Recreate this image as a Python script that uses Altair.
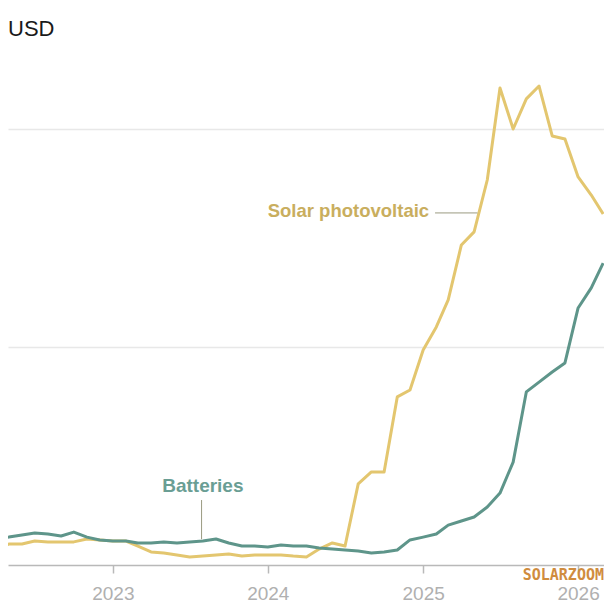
import altair as alt
import pandas as pd

# Monthly values, April 2022 .. March 2026
start_month = "2022-04-01"
n_months = 48
solar = [7.3, 9.6, 9.6, 11.0, 10.6, 10.6, 10.6, 11.9, 11.5,
         11.0, 11.0, 8.7, 6.0, 5.5, 4.6, 3.7, 4.1, 4.6, 5.0, 4.1, 4.6,
         4.6, 4.6, 4.1, 3.7, 7.3, 10.1, 8.7, 37.2, 42.7, 42.7, 77.1, 80.3,
         98.6, 109.2, 121.6, 146.8, 152.8, 176.6, 218.8, 200.0, 213.8, 219.7, 196.8, 195.4,
         178.0, 169.7, 161.0]
batteries = [12.4, 12.8, 13.8, 14.7, 14.2, 13.3, 15.1, 12.8, 11.5,
             11.0, 11.0, 10.1, 10.1, 10.6, 10.1, 10.6, 11.0, 11.9, 10.1, 8.7, 8.7,
             8.3, 9.2, 8.7, 8.7, 7.8, 7.3, 6.9, 6.4, 5.5, 6.0, 6.9, 11.5,
             12.8, 14.2, 18.3, 20.2, 22.0, 26.6, 33.0, 47.2, 79.4, 83.9, 88.5, 92.7,
             117.9, 127.1, 138.5]
series_names = ["Solar photovoltaic", "Batteries"]
series_colors = ["#e3c66f", "#5e958a"]
label_colors = ["#c9ae5e", "#6a9e94"]
year_ticks = [2023, 2024, 2025, 2026]
grid_values = [100, 200]

months = pd.date_range(start_month, periods=n_months, freq="MS").strftime("%Y-%m-%dT00:00:00")
df = pd.concat([
    pd.DataFrame({"date": months, "value": solar, "series": series_names[0]}),
    pd.DataFrame({"date": months, "value": batteries, "series": series_names[1]}),
])

# annotation labels and leader lines (in data coordinates)
label_dates = ["2025-01-15T00:00:00", "2023-08-01T00:00:00"]
label_values = [159.6, 33.5]
leader_start = ["2025-01-29T00:00:00", "2023-07-29T00:00:00"]
leader_end = ["2025-05-09T00:00:00", "2023-07-29T00:00:00"]
leader_values = [161.5, 29.8]
leader_values2 = [161.5, 11.8]

xscale = alt.Scale(domain=[alt.DateTime(year=2022, month=4, date=29),
                           alt.DateTime(year=2026, month=3, date=3)])
yscale = alt.Scale(domain=[0, 255.5], nice=False)
cscale = alt.Scale(domain=series_names, range=series_colors)

x = alt.X("date:T", scale=xscale, title=None,
          axis=alt.Axis(values=[alt.DateTime(year=y, month=1, date=1) for y in year_ticks],
                        format="%Y", grid=False, domainColor="#b9b9b9", domainWidth=1.5,
                        tickColor="#b9b9b9", tickSize=8, tickWidth=1.5,
                        labelColor="#b0b0b0", labelFontSize=19, labelFont="Liberation Sans",
                        labelPadding=11))
y = alt.Y("value:Q", scale=yscale, title=None,
          axis=alt.Axis(values=grid_values, labels=False, ticks=False, domain=False,
                        grid=True, gridColor="#e8e8e8", gridWidth=1.5))

lines = alt.Chart(df).mark_line(strokeWidth=3, clip=True, strokeJoin="round").encode(
    x=x, y=y,
    color=alt.Color("series:N", scale=cscale, legend=None),
    order=alt.Order("date:T"),
)

leaders = pd.DataFrame({"d1": leader_start, "d2": leader_end,
                        "v1": leader_values, "v2": leader_values2})
rules = alt.Chart(leaders).mark_rule(color="#9a9a80", strokeWidth=1).encode(
    x="d1:T", x2="d2:T", y="v1:Q", y2="v2:Q")

solar_label = alt.Chart(pd.DataFrame({"d": [label_dates[0]], "v": [label_values[0]],
                                      "t": [series_names[0]]})).mark_text(
    align="right", baseline="alphabetic", fontSize=18.5, fontWeight="bold",
    font="Liberation Sans", color=label_colors[0]).encode(
    x="d:T", y="v:Q", text="t:N")
batt_label = alt.Chart(pd.DataFrame({"d": [label_dates[1]], "v": [label_values[1]],
                                     "t": [series_names[1]]})).mark_text(
    align="center", baseline="alphabetic", fontSize=19, fontWeight="bold",
    font="Liberation Sans", color=label_colors[1]).encode(
    x="d:T", y="v:Q", text="t:N")

unit_text = alt.Chart(pd.DataFrame({"t": ["USD"]})).mark_text(
    align="left", baseline="alphabetic", fontSize=22, font="Liberation Sans",
    color="#1a1a1a").encode(x=alt.value(0), y=alt.value(28), text="t:N")

watermark = alt.Chart(pd.DataFrame({"t": ["SOLARZOOM"]})).mark_text(
    align="right", baseline="alphabetic", fontSize=15, font="DejaVu Sans Mono",
    fontWeight="bold", color="#d08c3e").encode(x=alt.value(596), y=alt.value(572), text="t:N")

chart = alt.layer(lines, rules, solar_label, batt_label, unit_text, watermark).properties(
    width=596, height=557, padding=0, background="white"
).configure_view(stroke=None)

chart.save("out.html", embed_options={"renderer": "svg", "actions": False})
